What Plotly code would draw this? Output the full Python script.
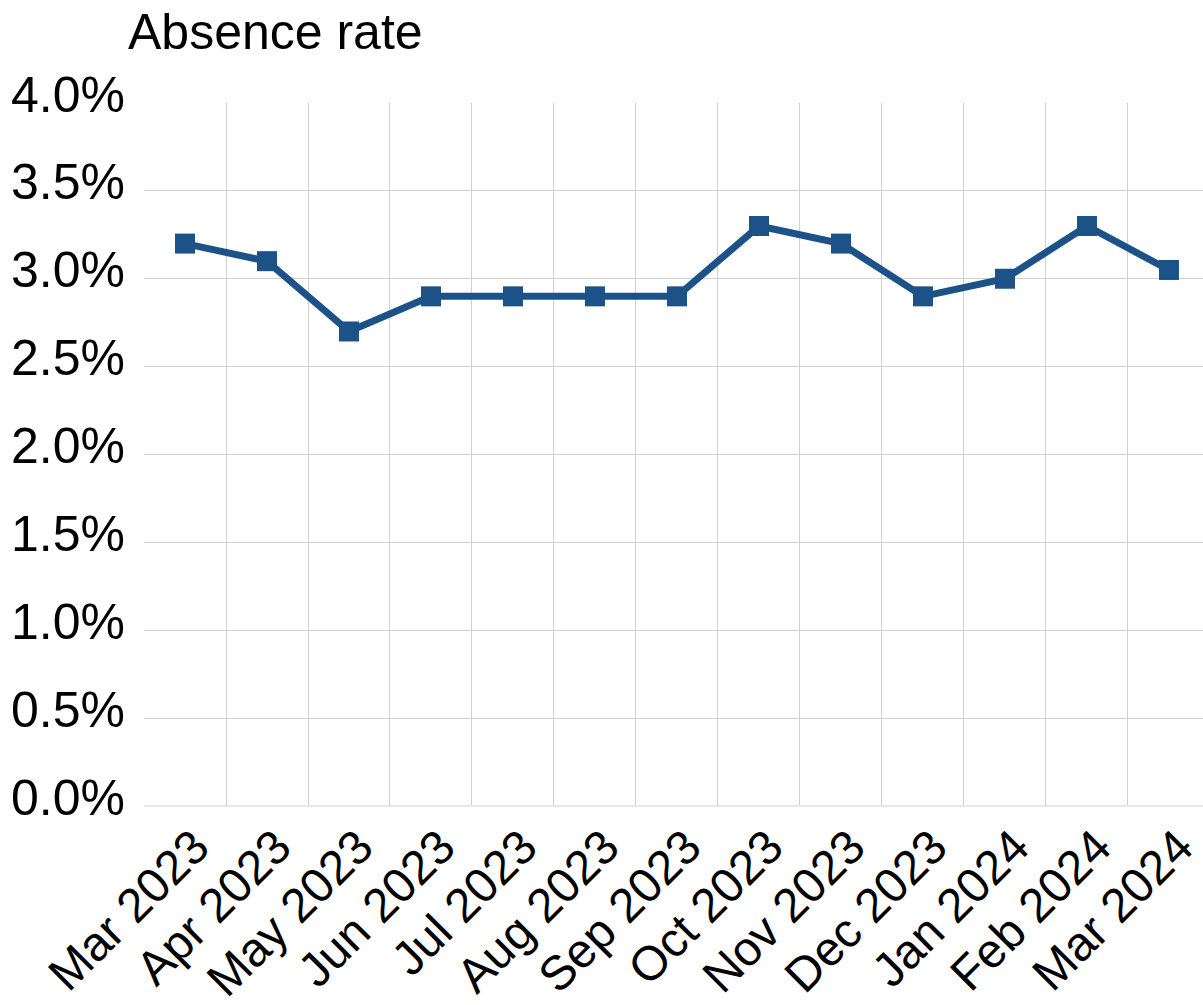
import plotly.graph_objects as go

months = ["Mar 2023", "Apr 2023", "May 2023", "Jun 2023", "Jul 2023", "Aug 2023",
          "Sep 2023", "Oct 2023", "Nov 2023", "Dec 2023", "Jan 2024", "Feb 2024", "Mar 2024"]
absence_rate = [0.032, 0.031, 0.027, 0.029, 0.029, 0.029, 0.029,
                0.033, 0.032, 0.029, 0.030, 0.033, 0.0305]

LINE = "#1c5288"
GRID = "#d0d0d0"
FONT = "Liberation Sans, Arial, sans-serif"

fig = go.Figure()
fig.add_trace(go.Scatter(
    x=months, y=absence_rate, mode="lines+markers",
    line=dict(color=LINE, width=7),
    marker=dict(symbol="square", size=20, color=LINE),
    showlegend=False,
))

fig.update_layout(
    width=1203, height=1005,
    margin=dict(l=144, r=0, t=103, b=199),
    paper_bgcolor="white", plot_bgcolor="white",
    font=dict(family=FONT, color="black"),
    title=dict(text="Absence rate", font=dict(size=50, family=FONT, color="black"),
               x=128/1203, xanchor="left", xref="container",
               y=1 - 14/1005, yanchor="top", yref="container"),
)
fig.update_xaxes(
    type="category", tickson="boundaries", showgrid=True, gridcolor=GRID, gridwidth=1,
    tickangle=-45, tickfont=dict(size=48, family=FONT, color="black"),
    ticks="", showline=False, range=[-0.5, 12.415], ticklabelshift=10,
    ticklabelstandoff=2, automargin=False,
)
fig.update_yaxes(
    range=[0, 0.04], dtick=0.005, tickformat=".1%",
    showgrid=True, gridcolor=GRID, gridwidth=1,
    zeroline=True, zerolinecolor="#e6e6e6", zerolinewidth=2,
    tickfont=dict(size=50, family=FONT, color="black"),
    ticks="", ticklabelstandoff=18, ticklabelshift=-9, automargin=False,
)

fig.write_html("out.html")
